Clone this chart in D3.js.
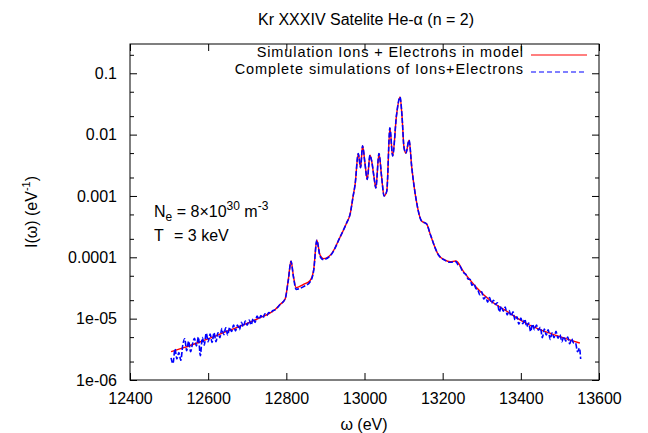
<!DOCTYPE html>
<html>
<head>
<meta charset="utf-8">
<script src="https://cdn.jsdelivr.net/npm/d3@7"></script>
<style>
  body { margin: 0; background: #fff; }
  svg { display: block; }
  text { font-family: "Liberation Sans", Arial, Helvetica, sans-serif; fill: #000; }
</style>
</head>
<body>
<svg id="chart" width="648" height="433"></svg>
<script>
// Axis ticks
const xTicks = [12400, 12600, 12800, 13000, 13200, 13400, 13600];
const yTicks = [1e-6, 1e-5, 1e-4, 1e-3, 1e-2, 1e-1];
const yTickLabels = ["1e-06", "1e-05", "0.0001", "0.001", "0.01", "0.1"];
const yMinorTicks = [2e-6, 5e-6, 2e-5, 5e-5, 2e-4, 5e-4, 2e-3, 5e-3, 2e-2, 5e-2, 2e-1];

// Series 1: simulation with ions + electrons in the model (smooth)
const modelOmega = [
  12505, 12540, 12580, 12605, 12650, 12690, 12730, 12758, 12770, 12784,
  12797, 12805, 12812, 12818, 12825, 12843, 12861, 12870, 12878, 12886,
  12895, 12916, 12937, 12954, 12963, 12971, 12976, 12984, 12990, 12995,
  13001, 13007, 13014, 13018, 13025, 13029, 13037, 13044, 13050, 13057,
  13065, 13072, 13082, 13091, 13096, 13101, 13106, 13114, 13121, 13133,
  13146, 13159, 13168, 13189, 13205, 13219, 13234, 13253, 13287, 13321,
  13364, 13406, 13449, 13500, 13551
];
const modelIntensity = [
  2.9e-6, 3.4e-6, 4.2e-6, 4.8e-6, 6.3e-6, 7.9e-6, 1.02e-5, 1.23e-5, 1.38e-5, 1.7e-5,
  2.1e-5, 4.3e-5, 8.7e-5, 5.0e-5, 3.2e-5, 3.6e-5, 4.2e-5, 6.3e-5, 1.9e-4, 1.1e-4,
  9.5e-5, 1.15e-4, 2.1e-4, 3.6e-4, 5.0e-4, 1.0e-3, 1.55e-3, 4.9e-3, 2.9e-3, 6.6e-3,
  3.5e-3, 1.86e-3, 4.6e-3, 3.8e-3, 1.9e-3, 1.35e-3, 4.9e-3, 2.0e-3, 1.0e-3, 1.2e-3,
  1.29e-2, 4.5e-3, 2.1e-2, 4.1e-2, 2.0e-2, 6.2e-3, 5.0e-3, 8.1e-3, 2.9e-3, 8.1e-4,
  3.9e-4, 3.5e-4, 2.4e-4, 1.1e-4, 9.1e-5, 8.5e-5, 8.7e-5, 5.9e-5, 3.2e-5, 2.0e-5,
  1.32e-5, 8.9e-6, 6.6e-6, 5.1e-6, 4.0e-6
];

// Series 2: complete simulation of ions + electrons (noisy wings)
const fullOmega = [
  12505, 12510, 12515, 12520, 12525, 12530, 12535, 12540, 12545, 12550,
  12555, 12560, 12565, 12570, 12575, 12580, 12585, 12590, 12595, 12600,
  12605, 12610, 12615, 12620, 12625, 12630, 12635, 12640, 12645, 12650,
  12655, 12660, 12665, 12670, 12675, 12680, 12685, 12690, 12695, 12700,
  12705, 12710, 12715, 12720, 12725, 12730, 12735, 12740, 12745, 12750,
  12755, 12760, 12765, 12770, 12784, 12797, 12805, 12812, 12818, 12825,
  12843, 12861, 12870, 12878, 12886, 12895, 12916, 12937, 12954, 12963,
  12971, 12976, 12984, 12990, 12995, 13001, 13007, 13014, 13018, 13025,
  13029, 13037, 13044, 13050, 13057, 13065, 13072, 13082, 13091, 13096,
  13101, 13106, 13114, 13121, 13133, 13146, 13159, 13168, 13189, 13205,
  13219, 13234, 13240, 13245, 13250, 13255, 13260, 13265, 13270, 13275,
  13280, 13285, 13290, 13295, 13300, 13305, 13310, 13315, 13320, 13325,
  13330, 13335, 13340, 13345, 13350, 13355, 13360, 13365, 13370, 13375,
  13380, 13385, 13390, 13395, 13400, 13405, 13410, 13415, 13420, 13425,
  13430, 13435, 13440, 13445, 13450, 13455, 13460, 13465, 13470, 13475,
  13480, 13485, 13490, 13495, 13500, 13505, 13510, 13515, 13520, 13525,
  13530, 13535, 13540, 13545, 13550, 13553
];
const fullIntensity = [
  2.3e-6, 1.86e-6, 3.2e-6, 2.2e-6, 2.8e-6, 2.1e-6, 3.7e-6, 4.7e-6, 3.0e-6, 4.3e-6,
  2.9e-6, 3.9e-6, 4.8e-6, 3.6e-6, 5.0e-6, 2.5e-6, 4.9e-6, 3.7e-6, 5.8e-6, 4.2e-6,
  5.6e-6, 4.1e-6, 5.9e-6, 4.2e-6, 5.9e-6, 4.9e-6, 6.9e-6, 5.5e-6, 7.1e-6, 5.4e-6,
  7.2e-6, 6.2e-6, 7.9e-6, 6.3e-6, 7.9e-6, 6.6e-6, 8.7e-6, 7.4e-6, 9.1e-6, 7.8e-6,
  9.5e-6, 7.9e-6, 1.0e-5, 8.7e-6, 1.10e-5, 9.8e-6, 1.12e-5, 1.02e-5, 1.20e-5, 1.12e-5,
  1.26e-5, 1.23e-5, 1.35e-5, 1.38e-5, 1.7e-5, 2.1e-5, 4.2e-5, 8.6e-5, 4.9e-5, 3.0e-5,
  3.3e-5, 4.0e-5, 6.1e-5, 1.9e-4, 1.05e-4, 9.2e-5, 1.13e-4, 2.1e-4, 3.6e-4, 5.0e-4,
  1.0e-3, 1.55e-3, 4.9e-3, 2.9e-3, 6.6e-3, 3.5e-3, 1.86e-3, 4.6e-3, 3.8e-3, 1.9e-3,
  1.35e-3, 4.9e-3, 2.0e-3, 1.0e-3, 1.2e-3, 1.29e-2, 4.5e-3, 2.1e-2, 4.1e-2, 2.0e-2,
  6.2e-3, 5.0e-3, 8.1e-3, 2.9e-3, 8.1e-4, 3.9e-4, 3.5e-4, 2.4e-4, 1.1e-4, 9.0e-5,
  8.3e-5, 8.5e-5, 7.4e-5, 7.1e-5, 6.0e-5, 5.5e-5, 5.2e-5, 4.4e-5, 4.4e-5, 3.5e-5,
  3.7e-5, 3.1e-5, 2.95e-5, 2.45e-5, 2.75e-5, 2.1e-5, 2.25e-5, 1.86e-5, 2.2e-5, 1.78e-5,
  2.0e-5, 1.70e-5, 1.82e-5, 1.29e-5, 1.58e-5, 1.32e-5, 1.55e-5, 1.15e-5, 1.35e-5, 1.10e-5,
  1.29e-5, 9.5e-6, 1.07e-5, 8.1e-6, 1.02e-5, 8.3e-6, 9.8e-6, 7.4e-6, 8.5e-6, 6.2e-6,
  8.1e-6, 6.6e-6, 7.9e-6, 6.5e-6, 7.2e-6, 4.9e-6, 6.8e-6, 5.4e-6, 6.6e-6, 4.6e-6,
  5.9e-6, 4.9e-6, 6.2e-6, 4.8e-6, 5.5e-6, 4.2e-6, 5.1e-6, 4.3e-6, 5.0e-6, 3.9e-6,
  4.7e-6, 4.0e-6, 4.0e-6, 2.9e-6, 3.3e-6, 2.2e-6
];

const legendLabels = ["Simulation Ions + Electrons in model", "Complete simulations of Ions+Electrons"];
const seriesColors = ["#ff0000", "#0000ff"];

const svg = d3.select("#chart");
const margin = { left: 130, right: 49, top: 44, bottom: 53 };
const W = 648, H = 433;
const x = d3.scaleLinear().domain([12400, 13600]).range([margin.left, W - margin.right]);
const y = d3.scaleLog().domain([1e-6, 0.3]).range([H - margin.bottom, margin.top]);

const FS = 16;
const axisG = svg.append("g").attr("class", "axes");

function styleAxis(g) {
  g.select(".domain").remove();
  g.selectAll("line").attr("stroke", "#000").attr("stroke-width", 1);
  g.selectAll("text").attr("font-size", FS).attr("font-family", '"Liberation Sans", Arial, sans-serif').attr("fill", "#000");
}

// bottom + top major ticks
axisG.append("g").attr("transform", `translate(0,${y.range()[0]})`)
  .call(d3.axisBottom(x).tickValues(xTicks).tickFormat(d3.format("d")).tickSize(-7).tickSizeOuter(0).tickPadding(13))
  .call(styleAxis);
axisG.append("g").attr("transform", `translate(0,${y.range()[1]})`)
  .call(d3.axisTop(x).tickValues(xTicks).tickFormat("").tickSize(-7).tickSizeOuter(0))
  .call(styleAxis);

// left + right major ticks
axisG.append("g").attr("transform", `translate(${x.range()[0]},0)`)
  .call(d3.axisLeft(y).tickValues(yTicks).tickFormat((d, i) => yTickLabels[i]).tickSize(-7).tickSizeOuter(0).tickPadding(13))
  .call(styleAxis);
axisG.append("g").attr("transform", `translate(${x.range()[1]},0)`)
  .call(d3.axisRight(y).tickValues(yTicks).tickFormat("").tickSize(-7).tickSizeOuter(0))
  .call(styleAxis);

// minor ticks on the log axis
axisG.append("g").attr("transform", `translate(${x.range()[0]},0)`)
  .call(d3.axisLeft(y).tickValues(yMinorTicks).tickFormat("").tickSize(-4).tickSizeOuter(0))
  .call(styleAxis);
axisG.append("g").attr("transform", `translate(${x.range()[1]},0)`)
  .call(d3.axisRight(y).tickValues(yMinorTicks).tickFormat("").tickSize(-4).tickSizeOuter(0))
  .call(styleAxis);

// frame
svg.append("rect")
  .attr("x", x.range()[0]).attr("y", y.range()[1])
  .attr("width", x.range()[1] - x.range()[0]).attr("height", y.range()[0] - y.range()[1])
  .attr("fill", "none").attr("stroke", "#000").attr("stroke-width", 1);

// curves
const line = d3.line().x(d => x(d[0])).y(d => y(d[1])).curve(d3.curveMonotoneX);
const modelData = modelOmega.map((w, i) => [w, modelIntensity[i]]);
const fullData = fullOmega.map((w, i) => [w, fullIntensity[i]]);

svg.append("path").datum(modelData)
  .attr("d", line).attr("fill", "none")
  .attr("stroke", seriesColors[0]).attr("stroke-width", 1.4);
svg.append("path").datum(fullData)
  .attr("d", line).attr("fill", "none")
  .attr("stroke", seriesColors[1]).attr("stroke-width", 1.6)
  .attr("stroke-dasharray", "5,2");

// legend
const legend = svg.append("g").attr("class", "legend");
legendLabels.forEach((lab, i) => {
  const by = 57 + i * 16.5;
  const ly = Math.round(by - 2);
  legend.append("text").attr("x", 524).attr("y", by)
    .attr("text-anchor", "end").attr("font-size", 14.5)
    .attr("letter-spacing", 0.9).text(lab);
  legend.append("line")
    .attr("x1", 531).attr("x2", 587).attr("y1", ly).attr("y2", ly)
    .attr("stroke", seriesColors[i]).attr("stroke-width", 1.2)
    .attr("stroke-dasharray", i === 1 ? "5,3" : null);
});

// title
svg.append("text").attr("x", 366).attr("y", 25).attr("text-anchor", "middle")
  .attr("font-size", FS).text("Kr XXXIV Satelite He-α (n = 2)");

// axis titles
svg.append("text").attr("x", 364).attr("y", 430).attr("text-anchor", "middle")
  .attr("font-size", FS).text("ω (eV)");

const yl = svg.append("text").attr("transform", "translate(37,212) rotate(-90)")
  .attr("text-anchor", "middle").attr("font-size", FS);
yl.append("tspan").text("I(ω) (eV");
yl.append("tspan").attr("font-size", 11).attr("dy", -7).text("-1");
yl.append("tspan").attr("dy", 7).text(")");

// plasma conditions
const ne = svg.append("text").attr("x", 154).attr("y", 217).attr("font-size", FS);
ne.append("tspan").text("N");
ne.append("tspan").attr("font-size", 12).attr("dy", 4).text("e");
ne.append("tspan").attr("dy", -4).text(" = 8×10");
ne.append("tspan").attr("font-size", 12).attr("dy", -7).text("30");
ne.append("tspan").attr("dy", 7).text(" m");
ne.append("tspan").attr("font-size", 12).attr("dy", -7).text("-3");

const te = svg.append("text").attr("x", 154).attr("y", 241).attr("font-size", FS);
te.append("tspan").text("T");
te.append("tspan").attr("x", 174).text("= 3 keV");
</script>
</body>
</html>
